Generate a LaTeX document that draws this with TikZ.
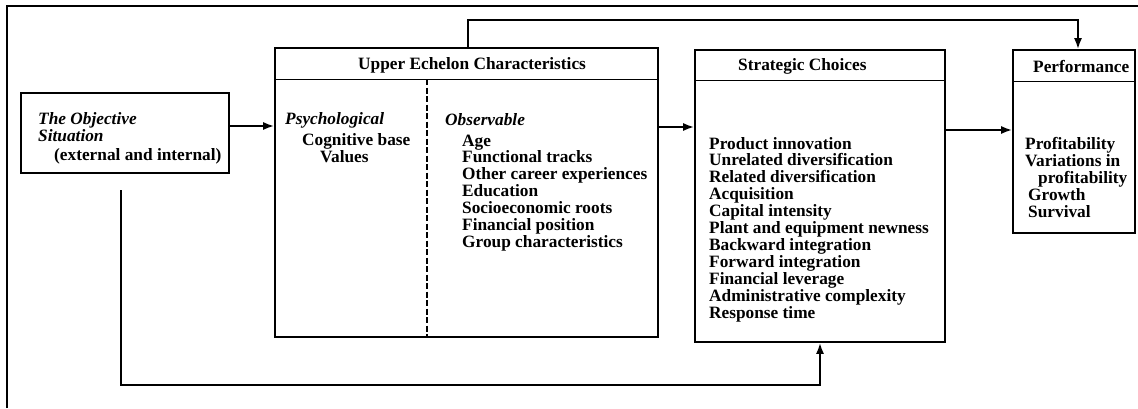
\documentclass[tikz,border=0pt]{standalone}
\usepackage{fontspec}
\setmainfont{Liberation Serif}
\usetikzlibrary{arrows.meta}
\tikzset{
  box/.style={draw, line width=1.6pt, inner sep=0pt},
  hline/.style={line width=1.3pt},
  arr/.style={line width=1.9pt, -{Latex[length=11pt,width=8pt]}},
  txt/.style={inner sep=0pt, anchor=base west, font=\fontsize{17.3}{17}\selectfont\bfseries},
  itxt/.style={txt, font=\fontsize{17.3}{17}\selectfont\bfseries\itshape},
  frame/.style={line width=1.4pt}
}
\begin{document}
\begin{tikzpicture}[x=1pt,y=-1pt]
\useasboundingbox (0,0) rectangle (1138,408);
% outer frame (top and left edges visible)
\draw[frame] (7,408) -- (7,6) -- (1140,6);
% boxes
\node[box, minimum width=208pt, minimum height=80pt] (obj) at (125,133) {};
\node[box, minimum width=383pt, minimum height=289pt] (upper) at (466.5,192.5) {};
\node[box, minimum width=250pt, minimum height=292pt] (strat) at (820,196) {};
\node[box, minimum width=122pt, minimum height=183pt] (perf) at (1074,141.5) {};
% header lines
\draw[hline] ([yshift=-32pt]upper.north west) -- ([yshift=-32pt]upper.north east);
\draw[hline] ([yshift=-31pt]strat.north west) -- ([yshift=-31pt]strat.north east);
\draw[hline] ([yshift=-32pt]perf.north west) -- ([yshift=-32pt]perf.north east);
% dashed divider
\draw[line width=1.3pt, dash pattern=on 6pt off 2.5pt] ([yshift=-32pt]upper.north -| 427,0) -- (upper.south -| 427,0);
% headers
\node[txt] (hupper) at (358,69) {Upper Echelon Characteristics};
\node[txt] (hstrat) at (738,70) {Strategic Choices};
\node[txt] (hperf) at (1033,72) {Performance};
% objective situation
\node[itxt] (obj1) at (38,124) {The Objective};
\node[itxt] (obj2) at (38,141) {Situation};
\node[txt] (obj3) at (54,160) {(external and internal)};
% psychological
\node[itxt] (psy) at (285,124) {Psychological};
\node[txt] (psy1) at (302,145) {Cognitive base};
\node[txt] (psy2) at (320,162) {Values};
% observable
\node[itxt] (obs) at (445,125) {Observable};
\foreach \t [count=\i] in {Age, Functional tracks, Other career experiences, Education, Socioeconomic roots, Financial position, Group characteristics}
  \node[txt] (obs\i) at (462,146+16.9*\i-16.9) {\t};
% strategic choices
\foreach \t [count=\i] in {Product innovation, Unrelated diversification, Related diversification, Acquisition, Capital intensity, Plant and equipment newness, Backward integration, Forward integration, Financial leverage, Administrative complexity, Response time}
  \node[txt] (sc\i) at (709,149+16.9*\i-16.9) {\t};
% performance
\node[txt] (p1) at (1025,149) {Profitability};
\node[txt] (p2) at (1025,166) {Variations in};
\node[txt] (p3) at (1038,183) {profitability};
\node[txt] (p4) at (1028,200) {Growth};
\node[txt] (p5) at (1028,217) {Survival};
% connectors
\draw[arr] ([yshift=7pt]obj.east) -- ([yshift=7pt]obj.east -| upper.west);
\draw[arr] (upper.east |- 0,127) -- (strat.west |- 0,127);
\draw[arr] (strat.east |- 0,130) -- (perf.west |- 0,130);
\draw[arr] (upper.north -| 468,0) |- (1078,20) -- (perf.north -| 1078,0);
\coordinate (fb) at (121,190);
\draw[arr] (fb) |- (820,385) -- (strat.south -| 820,0);
\end{tikzpicture}
\end{document}
